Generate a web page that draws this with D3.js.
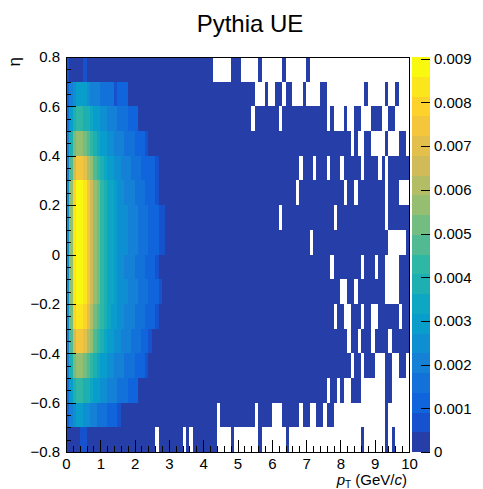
<!DOCTYPE html>
<html><head><meta charset="utf-8">
<script src="https://cdn.jsdelivr.net/npm/d3@7"></script>
<style>
body{margin:0;background:#fff}
svg{display:block}
text{font-family:"Liberation Sans",Arial,Helvetica,sans-serif}
</style>
</head><body>
<svg id="c" width="483" height="489"></svg>
<script>
const chartTitle = "Pythia UE";
const ptRange = [0, 10];
const etaRange = [-0.8, 0.8];
const ptBinWidth = 0.1;
const etaBinWidth = 0.1;
const valueUnit = 1e-4; // bin contents below are in units of 1e-4
const xTickValues = [0,1,2,3,4,5,6,7,8,9,10];
const xTickLabels = ["0","1","2","3","4","5","6","7","8","9","10"];
const yTickValues = [-0.8,-0.6,-0.4,-0.2,0,0.2,0.4,0.6,0.8];
const yTickLabels = ["\u22120.8","\u22120.6","\u22120.4","\u22120.2","0","0.2","0.4","0.6","0.8"];
const zTickValues = [0,0.001,0.002,0.003,0.004,0.005,0.006,0.007,0.008,0.009];
const zTickLabels = ["0","0.001","0.002","0.003","0.004","0.005","0.006","0.007","0.008","0.009"];
// eta bin low edges, top row first
const etaLowEdges = [0.7,0.6,0.5,0.4,0.3,0.2,0.1,0.0,-0.1,-0.2,-0.3,-0.4,-0.5,-0.6,-0.7,-0.8];

// one array per eta row (100 pT bins of 0.1 GeV/c)
const eta_p07 = [
7,2,2,2,2,7,2,2,2,2,
2,2,2,2,2,2,2,2,2,2,
1,1,1,1,1,1,1,1,1,1,
1,1,1,1,1,1,1,1,1,1,
1,1,1,0,0,0,0,0,1,1,
1,0,0,0,0,0,1,0,0,0,
0,0,0,1,0,0,0,0,0,0,
1,0,0,0,0,0,0,0,0,0,
0,0,0,0,0,0,0,0,0,0,
0,0,0,0,0,0,0,0,0,0];
const eta_p06 = [
11,20,25,29,29,29,25,20,20,20,
16,16,16,16,7,11,11,11,2,2,
2,2,1,1,1,1,1,1,1,1,
1,1,1,1,1,1,1,1,1,1,
1,1,1,1,1,1,1,1,1,1,
1,1,1,1,1,0,0,0,1,0,
0,1,1,0,1,1,0,0,0,1,
0,0,0,0,1,1,0,0,0,0,
0,0,0,0,0,0,0,1,0,0,
0,0,0,1,0,0,1,0,0,0];
const eta_p05 = [
16,29,38,43,43,38,38,34,29,29,
25,25,20,20,20,16,16,16,11,11,
11,2,2,1,1,1,1,1,1,1,
1,1,1,1,1,1,1,1,1,1,
1,1,1,1,1,1,1,1,1,1,
1,1,1,1,0,1,1,1,1,1,
1,1,0,1,1,1,1,1,1,1,
1,1,1,1,1,1,0,1,0,0,
0,1,0,0,1,1,0,0,0,1,
1,1,0,0,1,1,0,0,0,0];
const eta_p04 = [
20,38,52,56,56,52,47,43,38,34,
29,29,25,25,20,20,20,16,16,16,
11,11,11,7,2,2,1,1,1,1,
1,1,1,1,1,1,1,1,1,1,
1,1,1,1,1,1,1,1,1,1,
1,1,1,1,1,1,1,1,1,1,
1,1,1,1,1,1,1,1,1,1,
1,1,1,1,1,1,1,1,1,1,
1,1,1,0,1,0,0,1,1,0,
0,0,0,1,0,0,0,1,1,0];
const eta_p03 = [
20,47,65,75,75,70,61,56,47,43,
38,34,29,29,25,25,20,20,20,16,
16,16,11,11,11,11,7,2,2,1,
1,1,1,1,1,1,1,1,1,1,
1,1,1,1,1,1,1,1,1,1,
1,1,1,1,1,1,1,1,1,1,
1,1,1,1,1,1,1,1,0,1,
1,1,0,1,1,1,0,1,1,1,
0,1,1,1,1,1,0,1,1,1,
1,0,1,0,1,1,1,1,1,1];
const eta_p02 = [
25,56,79,88,88,84,75,65,56,52,
43,38,34,34,29,25,25,20,20,20,
16,16,16,11,11,11,7,2,2,1,
1,1,1,1,1,1,1,1,1,1,
1,1,1,1,1,1,1,1,1,1,
1,1,1,1,1,1,1,1,1,1,
1,1,1,1,1,1,1,0,1,1,
1,1,1,1,1,1,1,1,1,1,
1,0,1,1,0,1,1,1,1,1,
1,1,1,0,1,1,1,0,0,0];
const eta_p01 = [
25,56,84,88,90.4,84,75,65,56,52,
43,38,34,34,29,25,25,25,20,20,
20,16,16,16,11,11,11,7,7,2,
1,1,1,1,1,1,1,1,1,1,
1,1,1,1,1,1,1,1,1,1,
1,1,1,1,1,1,1,1,1,1,
1,1,0,1,1,1,1,1,1,1,
1,1,1,1,1,1,1,1,0,1,
1,1,1,1,1,1,1,1,1,1,
1,1,1,0,1,1,1,1,1,1];
const eta_p00 = [
25,56,84,88,88,84,75,65,56,52,
43,38,34,34,29,25,25,25,20,20,
20,16,16,16,11,11,11,7,7,2,
1,1,1,1,1,1,1,1,1,1,
1,1,1,1,1,1,1,1,1,1,
1,1,1,1,1,1,1,1,1,1,
1,1,1,1,1,1,1,1,1,1,
1,0,1,1,1,1,1,1,1,1,
1,1,1,1,1,1,1,1,1,1,
1,1,1,1,0,0,0,0,0,1];
const eta_m01 = [
25,56,84,88,88,84,75,65,56,52,
43,38,34,34,29,25,25,20,20,20,
16,16,16,11,11,11,7,2,2,1,
1,1,1,1,1,1,1,1,1,1,
1,1,1,1,1,1,1,1,1,1,
1,1,1,1,1,1,1,1,1,1,
1,1,1,1,1,1,1,1,1,1,
1,1,1,1,1,1,1,0,1,1,
1,1,1,1,1,1,0,1,1,1,
0,1,1,0,0,0,0,1,1,1];
const eta_m02 = [
25,56,84,88,88,84,75,65,56,52,
43,38,34,34,29,25,25,25,20,20,
20,16,16,16,11,11,11,7,2,2,
1,1,1,1,1,1,1,1,1,1,
1,1,1,1,1,1,1,1,1,1,
1,1,1,1,1,1,1,1,1,1,
1,1,1,1,1,1,1,1,1,1,
1,1,1,1,1,1,1,1,1,1,
0,0,1,1,0,1,1,1,1,1,
1,1,1,0,0,0,0,1,1,1];
const eta_m03 = [
25,52,79,84,84,79,70,61,52,47,
43,38,34,29,29,25,25,20,20,20,
16,16,16,11,11,11,7,2,2,1,
1,1,1,1,1,1,1,1,1,1,
1,1,1,1,1,1,1,1,1,1,
1,1,1,1,1,1,1,1,1,1,
1,1,1,1,1,1,1,1,1,1,
1,1,1,1,1,1,1,1,0,1,
1,0,0,1,1,1,0,1,1,0,
0,1,1,1,1,1,1,0,1,1];
const eta_m04 = [
20,47,65,75,75,70,61,56,47,43,
38,34,29,29,25,25,20,20,20,16,
16,16,11,11,7,2,2,1,1,1,
1,1,1,1,1,1,1,1,1,1,
1,1,1,1,1,1,1,1,1,1,
1,1,1,1,1,1,1,1,1,1,
1,1,1,1,1,1,1,1,1,1,
1,1,1,1,1,1,1,1,1,1,
1,1,0,1,1,0,1,1,1,0,
1,1,1,1,0,1,1,1,1,1];
const eta_m05 = [
20,38,52,56,56,52,47,43,38,34,
29,29,25,25,20,20,20,16,16,16,
11,11,11,7,2,2,1,1,1,1,
1,1,1,1,1,1,1,1,1,1,
1,1,1,1,1,1,1,1,1,1,
1,1,1,1,1,1,1,1,1,1,
1,1,1,1,1,1,1,1,1,1,
1,1,1,1,1,1,1,1,1,1,
1,1,1,0,1,1,0,1,1,1,
0,0,0,1,1,0,0,1,1,0];
const eta_m06 = [
16,29,38,43,43,38,38,34,29,29,
25,25,20,20,20,16,16,16,11,11,
11,2,2,1,1,1,1,1,1,1,
1,1,1,1,1,1,1,1,1,1,
1,1,1,1,1,1,1,1,1,1,
1,1,1,1,1,1,1,1,1,1,
1,1,1,1,1,1,1,1,1,1,
1,1,1,1,1,1,0,1,1,0,
1,0,0,1,1,1,0,0,0,0,
0,0,0,1,1,0,0,0,0,0];
const eta_m07 = [
11,20,25,29,29,25,25,20,20,16,
16,16,11,11,11,7,2,2,1,1,
1,1,1,1,1,1,1,1,1,1,
1,1,1,1,1,1,1,1,1,1,
1,1,1,1,0,1,1,1,1,1,
1,1,1,1,1,0,1,1,1,1,
0,0,0,1,1,1,1,1,0,1,
1,0,0,1,1,0,1,1,0,0,
0,0,0,0,0,0,0,0,0,0,
0,0,0,1,0,0,0,0,0,0];
const eta_m08 = [
2,2,2,2,7,7,2,2,2,2,
2,2,2,2,2,2,2,2,2,2,
1,1,1,1,1,1,0,1,1,1,
1,1,1,1,0,1,0,1,1,1,
1,1,1,1,0,0,0,0,1,0,
0,0,0,0,0,0,1,0,0,0,
0,0,0,0,1,0,0,0,0,0,
0,0,0,0,0,0,0,0,0,0,
0,0,0,0,0,0,1,0,0,0,
0,0,0,1,0,1,0,0,0,0];

const rows = [eta_p07,eta_p06,eta_p05,eta_p04,eta_p03,eta_p02,eta_p01,eta_p00,
              eta_m01,eta_m02,eta_m03,eta_m04,eta_m05,eta_m06,eta_m07,eta_m08];

// ROOT kBird palette (style)
const stops=[0,0.125,0.25,0.375,0.5,0.625,0.75,0.875,1];
const red  =[0.2082,0.0592,0.0780,0.0232,0.1802,0.5301,0.8186,0.9956,0.9764];
const green=[0.1664,0.3599,0.5041,0.6419,0.7178,0.7492,0.7328,0.7862,0.9832];
const blue =[0.5293,0.8684,0.8385,0.7914,0.6425,0.4662,0.3499,0.1968,0.0539];
const NCOL=255, NDIV=20;
const palette=[];
for(let g=1; g<stops.length; g++){
  const n=Math.floor(NCOL*stops[g])-Math.floor(NCOL*stops[g-1]);
  for(let c=0;c<n;c++){
    palette.push(d3.rgb(
      Math.round(255*(red[g-1]+c*(red[g]-red[g-1])/n)),
      Math.round(255*(green[g-1]+c*(green[g]-green[g-1])/n)),
      Math.round(255*(blue[g-1]+c*(blue[g]-blue[g-1])/n))).formatHex());
  }
}
function levelColor(k){ return palette[Math.min(NCOL-1, Math.floor((k+0.99)*NCOL/NDIV))]; }

const cells=[];
rows.forEach((row,r)=>row.forEach((v,i)=>{
  if(v>0) cells.push({x0:i*ptBinWidth, x1:(i+1)*ptBinWidth, y0:etaLowEdges[r], y1:etaLowEdges[r]+etaBinWidth, z:v*valueUnit});
}));
const zmax = d3.max(cells, d=>d.z);
function levelOf(z){ return Math.max(0, Math.min(NDIV-1, Math.floor(0.01 + z*NDIV/zmax))); }

const svg=d3.select("#c");
const X0=66, X1=409, Y0=57, Y1=452;
const x=d3.scaleLinear().domain(ptRange).range([X0,X1]);
const y=d3.scaleLinear().domain(etaRange).range([Y1,Y0]);
const z=d3.scaleLinear().domain([0,zmax]).range([Y1,Y0]);

// cells
svg.append("g").attr("shape-rendering","crispEdges")
  .selectAll("rect").data(cells).join("rect")
  .attr("x",d=>x(d.x0)).attr("width",d=>x(d.x1)-x(d.x0))
  .attr("y",d=>y(d.y1)).attr("height",d=>y(d.y0)-y(d.y1))
  .attr("fill",d=>levelColor(levelOf(d.z)));

// frame
svg.append("rect").attr("x",X0).attr("y",Y0).attr("width",X1-X0).attr("height",Y1-Y0)
  .attr("fill","none").attr("stroke","#000").attr("stroke-width",1).attr("shape-rendering","crispEdges");

const fs = 15;
// x axis
const xMinor = d3.range(0, 50).map(i=>i*0.2).filter(v=>Math.abs(v-Math.round(v))>1e-6);
const gxm = svg.append("g").attr("transform",`translate(0,${Y1})`)
  .call(d3.axisBottom(x).tickValues(xMinor).tickSize(-6).tickFormat(""));
const gx = svg.append("g").attr("transform",`translate(0,${Y1})`)
  .call(d3.axisBottom(x).tickValues(xTickValues).tickSize(-12).tickPadding(6)
    .tickFormat((d,i)=>xTickLabels[i]));
// y axis
const yMinor = d3.range(0, 33).map(i=>-0.8+i*0.05).filter(v=>Math.abs(v*5-Math.round(v*5))>1e-6);
const gym = svg.append("g").attr("transform",`translate(${X0},0)`)
  .call(d3.axisLeft(y).tickValues(yMinor).tickSize(-5).tickFormat(""));
const gy = svg.append("g").attr("transform",`translate(${X0},0)`)
  .call(d3.axisLeft(y).tickValues(yTickValues).tickSize(-10).tickPadding(6)
    .tickFormat((d,i)=>yTickLabels[i]));
[gxm,gx,gym,gy].forEach(g=>{
  g.select(".domain").remove();
  g.selectAll("line").attr("stroke","#000").attr("shape-rendering","crispEdges");
  g.selectAll("text").attr("font-size",fs).attr("fill","#000")
   .style("font-family",'"Liberation Sans",Arial,sans-serif');
});

// palette
const PX0=412, PX1=430;
const bands=d3.range(NDIV).map(k=>({k, lo:k*zmax/NDIV, hi:(k+1)*zmax/NDIV}));
svg.append("g").attr("shape-rendering","crispEdges").selectAll("rect").data(bands).join("rect")
  .attr("x",PX0).attr("width",PX1-PX0)
  .attr("y",d=>z(d.hi)).attr("height",d=>z(d.lo)-z(d.hi))
  .attr("fill",d=>levelColor(d.k));
const gz = svg.append("g").attr("transform",`translate(${PX1},0)`)
  .call(d3.axisRight(z).tickValues(zTickValues).tickSize(-9).tickPadding(4)
    .tickFormat((d,i)=>zTickLabels[i]));
gz.select(".domain").remove();
gz.selectAll("line").attr("stroke","#000").attr("shape-rendering","crispEdges");
gz.selectAll("text").attr("font-size",fs).attr("fill","#000")
  .style("font-family",'"Liberation Sans",Arial,sans-serif');

// title
svg.append("text").attr("x",250).attr("y",32).attr("text-anchor","middle")
  .attr("font-size",24).text(chartTitle);
// y title
svg.append("text").attr("transform",`translate(20,${Y0}) rotate(-90)`)
  .attr("text-anchor","end").attr("font-size",17).text("\u03B7");
// x title
const xt = svg.append("text").attr("x",407).attr("y",485).attr("text-anchor","end").attr("font-size",fs);
xt.append("tspan").attr("font-style","italic").text("p");
xt.append("tspan").attr("font-size",10).attr("dy",3).text("T");
xt.append("tspan").attr("dy",-3).text(" (GeV/");
xt.append("tspan").attr("font-style","italic").text("c");
xt.append("tspan").text(")");
</script>
</body></html>
